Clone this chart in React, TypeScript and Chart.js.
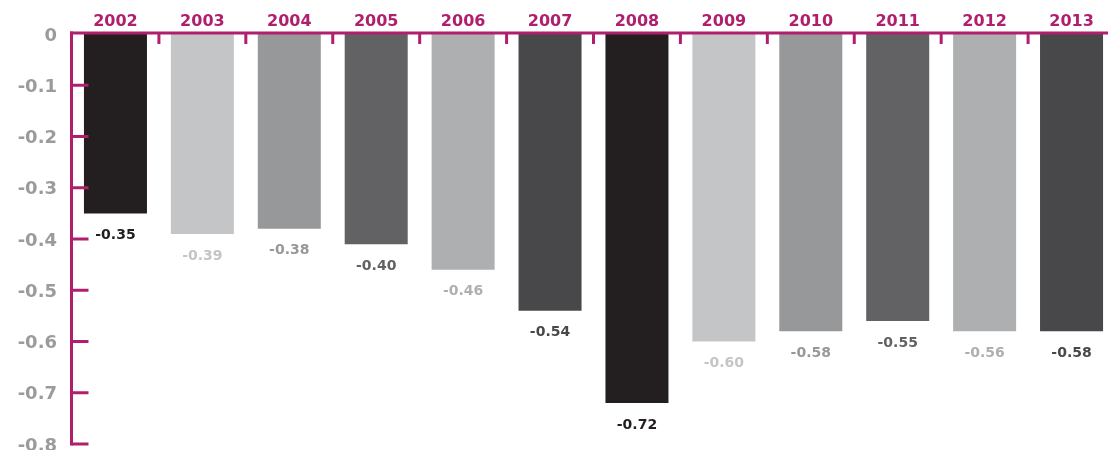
import React, { useEffect, useRef } from 'react';
import { Chart, registerables } from 'chart.js';

Chart.register(...registerables);

const years = ['2002', '2003', '2004', '2005', '2006', '2007', '2008', '2009', '2010', '2011', '2012', '2013'];
const values = [-0.35, -0.39, -0.38, -0.41, -0.46, -0.54, -0.72, -0.6, -0.58, -0.56, -0.58, -0.58];
const valueLabels = ['-0.35', '-0.39', '-0.38', '-0.40', '-0.46', '-0.54', '-0.72', '-0.60', '-0.58', '-0.55', '-0.56', '-0.58'];
const barColors = ['#231F20', '#C4C5C7', '#97989A', '#626264', '#AEAFB1', '#48484A', '#231F20', '#C4C5C7', '#97989A', '#626264', '#AEAFB1', '#48484A'];
const yTicks = [0, -0.1, -0.2, -0.3, -0.4, -0.5, -0.6, -0.7, -0.8];

const MAGENTA = '#B01F6D';
const FONT = '"DejaVu Sans"';

const decorPlugin = {
  id: 'decor',
  afterDatasetsDraw(chart: any) {
    const { ctx, chartArea: ca, scales } = chart;
    const x = scales.x;
    const y = scales.y;
    const top = y.getPixelForValue(0);
    const bottom = y.getPixelForValue(-0.8);
    const lx = ca.left - 0.5;
    ctx.save();
    ctx.strokeStyle = MAGENTA;
    ctx.lineWidth = 3;
    ctx.lineCap = 'butt';
    ctx.beginPath();
    ctx.moveTo(lx, top - 2.5);
    ctx.lineTo(lx, bottom + 1.5);
    ctx.stroke();
    ctx.beginPath();
    ctx.moveTo(lx - 1.5, top - 1);
    ctx.lineTo(chart.width, top - 1);
    ctx.stroke();
    yTicks.forEach((v) => {
      if (v === 0) return;
      const py = y.getPixelForValue(v);
      ctx.beginPath();
      ctx.moveTo(lx, py);
      ctx.lineTo(lx + 17, py);
      ctx.stroke();
    });
    for (let i = 1; i < years.length; i++) {
      const bx = (x.getPixelForValue(i - 1) + x.getPixelForValue(i)) / 2;
      ctx.beginPath();
      ctx.moveTo(bx, top - 1);
      ctx.lineTo(bx, top + 10);
      ctx.stroke();
    }
    const meta = chart.getDatasetMeta(0);
    ctx.font = `bold 14px ${FONT}`;
    ctx.textAlign = 'center';
    ctx.textBaseline = 'middle';
    meta.data.forEach((bar: any, i: number) => {
      ctx.fillStyle = barColors[i];
      ctx.fillText(valueLabels[i], bar.x, bar.y + 22);
    });
    ctx.restore();
  },
};

export default function App() {
  const ref = useRef<HTMLCanvasElement | null>(null);
  useEffect(() => {
    if (!ref.current) return;
    const chart = new Chart(ref.current, {
      type: 'bar',
      data: {
        labels: years,
        datasets: [
          {
            data: values,
            backgroundColor: barColors,
            borderWidth: 0,
            categoryPercentage: 1,
            barPercentage: 0.725,
          },
        ],
      },
      options: {
        animation: false,
        responsive: true,
        maintainAspectRatio: false,
        layout: { padding: { top: 0, bottom: 6, left: 0, right: 0 } },
        plugins: { legend: { display: false }, tooltip: { enabled: false } },
        scales: {
          x: {
            position: 'top',
            grid: { display: false, drawTicks: false },
            border: { display: false },
            ticks: {
              color: MAGENTA,
              font: { family: FONT, size: 16, weight: 'bold' },
              padding: 3,
              maxRotation: 0,
            },
            afterFit: (s: any) => {
              s.height = 34;
              s.paddingLeft = 0;
              s.paddingRight = 0;
            },
          },
          y: {
            min: -0.8,
            max: 0,
            grid: { display: false, drawTicks: false },
            border: { display: false },
            afterBuildTicks: (s: any) => {
              s.ticks = yTicks.map((v) => ({ value: v }));
            },
            ticks: {
              color: '#9B9B9B',
              font: { family: FONT, size: 18, weight: 'bold' },
              padding: 15,
              labelOffset: 2,
              callback: (v: any) => (Number(v) === 0 ? '0' : Number(v).toFixed(1)),
            },
            afterFit: (s: any) => {
              s.width = 72;
              s.paddingTop = 0;
              s.paddingBottom = 0;
            },
          },
        },
      },
      plugins: [decorPlugin],
    });
    return () => chart.destroy();
  }, []);
  return (
    <div style={{ position: 'fixed', left: 0, top: 0, width: 1108, height: 450, overflow: 'hidden', background: '#fff' }}>
      <div style={{ position: 'relative', width: 1115, height: 450 }}>
        <canvas ref={ref} />
      </div>
    </div>
  );
}
